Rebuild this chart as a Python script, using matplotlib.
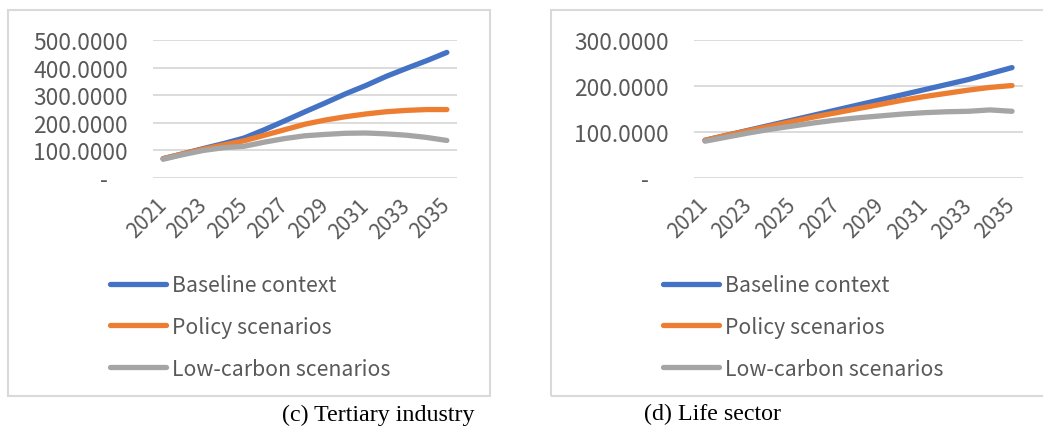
import numpy as np
import matplotlib
matplotlib.use('Agg')
import matplotlib.pyplot as plt
from matplotlib.patches import Rectangle
from matplotlib.ticker import FuncFormatter

# data
years = list(range(2021, 2036))
series_names = ['Baseline context', 'Policy scenarios', 'Low-carbon scenarios']

tertiary_baseline = [70, 88, 107, 125, 145, 175, 207, 240, 272, 305, 335, 368, 397, 425, 455]
tertiary_policy = [70, 88, 105, 120, 135, 155, 175, 195, 210, 222, 232, 240, 245, 248, 248]
tertiary_lowcarbon = [68, 85, 100, 110, 115, 130, 143, 153, 158, 162, 163, 160, 155, 147, 136]

life_baseline = [82, 93, 104, 115, 126, 137, 148, 159, 170, 181, 192, 203, 214, 227, 240]
life_policy = [82, 93, 103, 113, 123, 133, 142, 151, 160, 169, 177, 184, 191, 197, 201]
life_lowcarbon = [80, 89, 98, 106, 113, 120, 126, 131, 135, 139, 142, 144, 145, 148, 145]

colors = ['#4472C4', '#ED7D31', '#A5A5A5']
text_color = '#595959'
grid_color = '#D9D9D9'

plt.rcParams['font.family'] = ['Noto Sans CJK SC', 'DejaVu Sans']

W, H = 1043, 427
fig = plt.figure(figsize=(W / 100, H / 100), dpi=100)


def px(x, y):
    # pixel position (from top-left) to figure fraction
    return x / W, 1 - y / H


def draw_panel(rect, values, ymax, ystep, frame, legend_xy, caption, caption_xy):
    # outer chart frame
    fx0, fy0 = px(frame[0], frame[3])
    fig.patches.append(Rectangle((fx0, fy0), (frame[2] - frame[0]) / W, (frame[3] - frame[1]) / H,
                                 transform=fig.transFigure, fill=False,
                                 edgecolor=grid_color, lw=1.5))

    ax = fig.add_axes(rect)
    x = np.arange(len(years))
    lines = []
    for vals, c, name in zip(values, colors, series_names):
        l, = ax.plot(x, vals, color=c, lw=3.8, solid_capstyle='round', label=name)
        lines.append(l)

    ax.set_xlim(-0.5, len(years) - 0.5)
    ax.set_ylim(0, ymax)
    ax.set_yticks(np.arange(0, ymax + 1, ystep))
    ax.yaxis.set_major_formatter(FuncFormatter(
        lambda v, p: '-    ' if v == 0 else '%.4f' % v))
    ax.set_xticks(x[::2])
    ax.set_xticklabels([str(y) for y in years[::2]], rotation=45, ha='right',
                       rotation_mode='anchor', va='center')
    ax.tick_params(axis='y', length=0, pad=18, labelsize=16.4, labelcolor=text_color)
    ax.tick_params(axis='x', length=0, pad=17, labelsize=15, labelcolor=text_color)
    ax.grid(axis='y', color=grid_color, lw=1.3)
    ax.set_axisbelow(True)
    for s in ax.spines.values():
        s.set_visible(False)

    lx, ly = px(*legend_xy)
    fig.legend(handles=lines, loc='upper left', bbox_to_anchor=(lx, ly),
               bbox_transform=fig.transFigure, frameon=False, fontsize=15.3,
               handlelength=2.65, handletextpad=0.25, labelspacing=0.93,
               borderpad=0, borderaxespad=0, labelcolor=text_color)

    cx, cy = px(*caption_xy)
    fig.text(cx, cy, caption, ha='center', va='center', fontsize=17.3,
             family='Liberation Serif', color='black')
    return ax


draw_panel([153 / W, 1 - 179 / H, 304 / W, 138 / H],
           [tertiary_baseline, tertiary_policy, tertiary_lowcarbon], 500, 100,
           (8, 11, 490, 397), (110, 275), '(c) Tertiary industry', (378, 415))

draw_panel([694 / W, 1 - 179 / H, 329 / W, 138 / H],
           [life_baseline, life_policy, life_lowcarbon], 300, 100,
           (551, 11, 1060, 397), (663, 275), '(d) Life sector', (713, 414))

plt.savefig('out.png', dpi=100)
